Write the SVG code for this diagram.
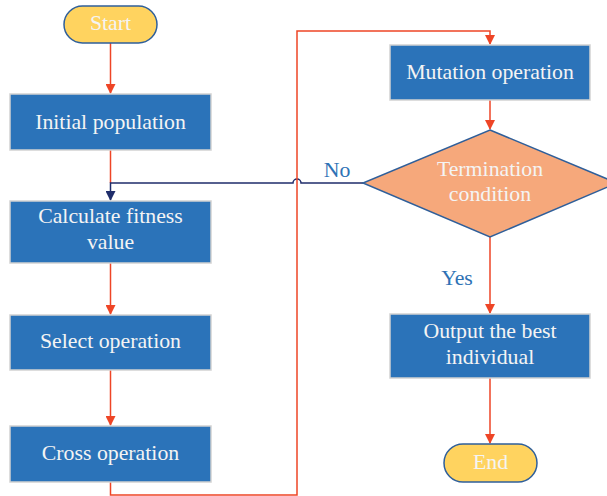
<svg xmlns="http://www.w3.org/2000/svg" width="607" height="496" viewBox="0 0 607 496">
<defs>
<style>
.box{fill:#2B73B9;stroke:#D2D2D2;stroke-width:1.5}
.pill{fill:#FFD35F;stroke:#2F5F9A;stroke-width:1.5}
.dia{fill:#F6A87B;stroke:#2F5F9A;stroke-width:1.5}
.t{font-family:"Liberation Serif",serif;font-size:21.8px;fill:#F4F4F4;text-anchor:middle}
.lbl{font-family:"Liberation Serif",serif;font-size:21.8px;fill:#2E72B5;text-anchor:middle}
.red{fill:none;stroke:#EE4526;stroke-width:1.5}
.navy{fill:none;stroke:#1F2D6B;stroke-width:1.5}
</style>
<marker id="ar" markerWidth="10" markerHeight="10" refX="9" refY="5" orient="auto" markerUnits="userSpaceOnUse"><path d="M0,0 L10,5 L0,10 z" fill="#EE4526"/></marker>
<marker id="an" markerWidth="10" markerHeight="10" refX="9" refY="5" orient="auto" markerUnits="userSpaceOnUse"><path d="M0,0 L10,5 L0,10 z" fill="#1F2D6B"/></marker>
</defs>
<g id="connectors">
<path class="red" d="M110.5 43 L110.5 93" marker-end="url(#ar)"/>
<path class="red" d="M110.5 150 L110.5 183"/>
<path class="navy" d="M363 183 L301 183 A4 4 0 0 0 293 183 L110.5 183 L110.5 200" marker-end="url(#an)"/>
<path class="red" d="M110.5 263 L110.5 314" marker-end="url(#ar)"/>
<path class="red" d="M110.5 370 L110.5 425" marker-end="url(#ar)"/>
<path class="red" d="M110.5 482 L110.5 495 L297 495 L297 31 L490 31 L490 44" marker-end="url(#ar)"/>
<path class="red" d="M490 100 L490 129" marker-end="url(#ar)"/>
<path class="red" d="M490 237 L490 313" marker-end="url(#ar)"/>
<path class="red" d="M490 378 L490 443" marker-end="url(#ar)"/>
<text class="lbl" x="337" y="177">No</text>
<text class="lbl" x="457" y="285">Yes</text>
</g>
<g id="start"><rect class="pill" x="64" y="6" width="93" height="37" rx="18.5"/><text class="t" x="110.5" y="30">Start</text></g>
<g id="initial"><rect class="box" x="10" y="94" width="201" height="56"/><text class="t" x="110.5" y="129">Initial population</text></g>
<g id="fitness"><rect class="box" x="10" y="201" width="201" height="62"/><text class="t" x="110.5" y="223">Calculate fitness</text><text class="t" x="110.5" y="249">value</text></g>
<g id="select"><rect class="box" x="10" y="315" width="201" height="55"/><text class="t" x="110.5" y="348">Select operation</text></g>
<g id="cross"><rect class="box" x="10" y="426" width="201" height="56"/><text class="t" x="110.5" y="460">Cross operation</text></g>
<g id="mutation"><rect class="box" x="390" y="45" width="200" height="55"/><text class="t" x="490" y="79">Mutation operation</text></g>
<g id="termination"><polygon class="dia" points="490,130 617,183 490,237 363,183"/><text class="t" x="490" y="176">Termination</text><text class="t" x="490" y="201">condition</text></g>
<g id="output"><rect class="box" x="390" y="314" width="200" height="64"/><text class="t" x="490" y="338">Output the best</text><text class="t" x="490" y="364">individual</text></g>
<g id="end"><rect class="pill" x="444" y="444" width="93" height="38" rx="19"/><text class="t" x="490.5" y="469">End</text></g>
</svg>
